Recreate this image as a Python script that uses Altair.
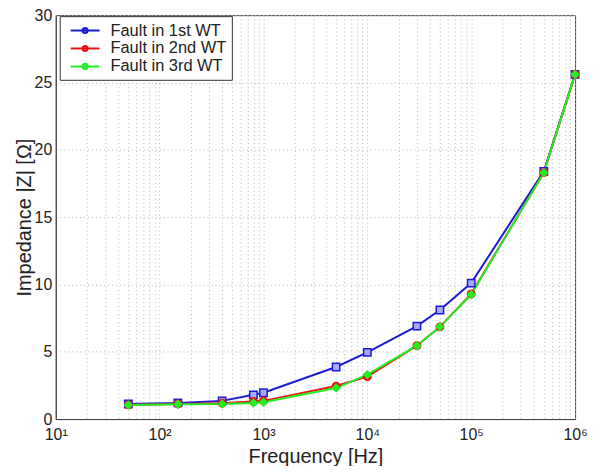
import altair as alt
import pandas as pd

freq = [50, 150, 400, 800, 1000, 5000, 10000, 30000, 50000, 100000, 500000, 1000000]
z_1st = [1.12, 1.2, 1.35, 1.8, 1.95, 3.87, 4.95, 6.9, 8.1, 10.1, 18.4, 25.6]
z_2nd = [1.05, 1.12, 1.18, 1.3, 1.35, 2.45, 3.15, 5.45, 6.85, 9.3, 18.3, 25.6]
z_3rd = [1.05, 1.1, 1.12, 1.2, 1.25, 2.3, 3.3, 5.45, 6.85, 9.25, 18.3, 25.6]
series = ["Fault in 1st WT", "Fault in 2nd WT", "Fault in 3rd WT"]
colors = ["#1c1cd8", "#e81414", "#22ee22"]
fills = ["#a8a8f4", "#e81414", "#22ee22"]
shapes = ["square", "circle", "diamond"]
x_ticks = [m * 10 ** e for e in range(1, 6) for m in range(1, 10)] + [10 ** 6]
y_ticks = [0, 5, 10, 15, 20, 25, 30]

rows = []
for name, vals in zip(series, [z_1st, z_2nd, z_3rd]):
    for f, z in zip(freq, vals):
        rows.append({"series": name, "freq": f, "z": z})
df = pd.DataFrame(rows)

sup = "['⁰','¹','²','³','⁴','⁵','⁶']"
label_expr = (
    "abs(log(datum.value)/LN10 - round(log(datum.value)/LN10)) < 0.001 ? "
    "'10' + " + sup + "[round(log(datum.value)/LN10)] : ''"
)

x = alt.X(
    "freq:Q",
    scale=alt.Scale(type="log", domain=[10, 1000000], nice=False),
    axis=alt.Axis(
        title="Frequency [Hz]",
        values=x_ticks,
        labelExpr=label_expr,
        grid=True,
        gridDash=[1, 3],
        gridColor="#b4b4b4",
        ticks=False,
        labelPadding=8,
        titlePadding=4,
        labelFlush=False,
        labelOverlap=False,
    ),
)
y = alt.Y(
    "z:Q",
    scale=alt.Scale(domain=[0, 30], nice=False),
    axis=alt.Axis(
        title="Impedance |Z| [Ω]",
        values=y_ticks,
        grid=True,
        gridDash=[1, 3],
        gridColor="#b4b4b4",
        ticks=False,
        labelPadding=4,
        titlePadding=0,
    ),
)
color = alt.Color(
    "series:N",
    scale=alt.Scale(domain=series, range=colors),
    legend=alt.Legend(
        title=None,
        orient="none",
        legendX=4,
        legendY=1,
        fillColor="white",
        strokeColor="#333333",
        padding=5,
        labelFontSize=16.5,
        labelOffset=16,
        rowPadding=-2,
        labelExpr="datum.label + '\u00a0\u00a0\u00a0\u00a0\u00a0'",
        symbolType="M-1.7,0H1.7M-0.3,0A0.3,0.3 0 1,0 0.3,0A0.3,0.3 0 1,0 -0.3,0Z",
        symbolSize=289,
        symbolStrokeWidth=2,
        symbolOffset=11,
    ),
)

base = alt.Chart(df)
lines = base.mark_line(strokeWidth=2).encode(x=x, y=y, color=color)
point_layers = [
    base.transform_filter(alt.datum.series == name)
    .mark_point(shape=shp, filled=False, fill=fc, fillOpacity=1, size=55, strokeWidth=1.5)
    .encode(x=x, y=y, color=color)
    for name, shp, fc in zip(series, shapes, fills)
]

chart = (
    alt.layer(lines, *point_layers)
    .properties(
        width=522,
        height=406,
        autosize=alt.AutoSizeParams(type="none"),
        padding={"left": 48, "top": 6, "right": 14, "bottom": 46},
    )
    .configure(font="Liberation Sans")
    .configure_view(stroke="#444444", strokeWidth=1)
    .configure_axis(
        labelFontSize=16,
        titleFontSize=20,
        titleFontWeight="normal",
        labelColor="#222222",
        titleColor="#222222",
        domainColor="#444444",
    )
    .configure_legend(labelColor="#222222")
)

chart.save("out.html", embed_options={"renderer": "svg", "actions": False})
